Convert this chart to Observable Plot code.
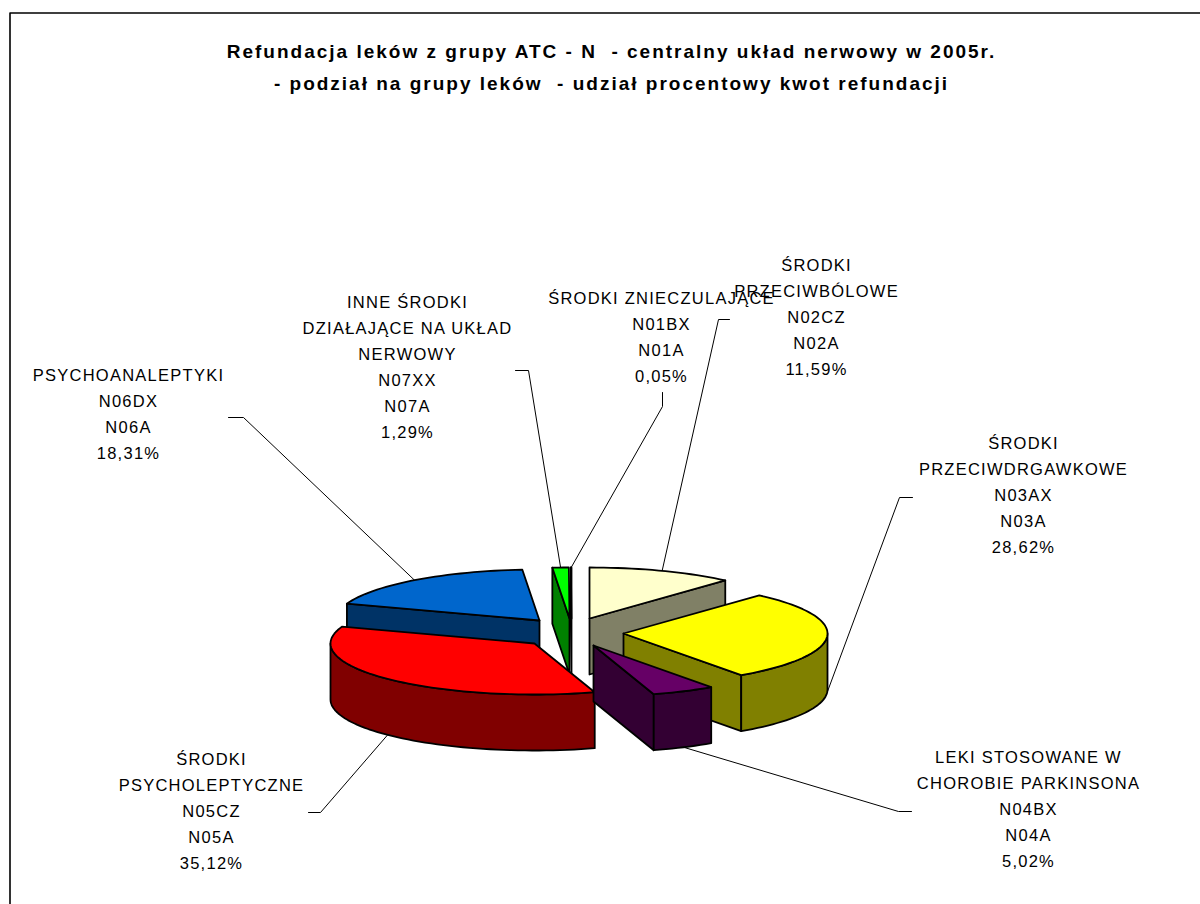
<!DOCTYPE html>
<html><head><meta charset="utf-8">
<script src="https://cdn.jsdelivr.net/npm/d3@7"></script>
<script src="https://cdn.jsdelivr.net/npm/@observablehq/plot@0.6"></script>
<style>html,body{margin:0;padding:0;background:#fff}svg{display:block}
.lab text{letter-spacing:1.25px}.ttl text{letter-spacing:2px}</style>
</head><body><div id="chart"></div>
<script>
// Data
const shares = [11.59,28.62,5.02,35.12,18.31,1.29,0.05];
const labelLines = [
  ["ŚRODKI","PRZECIWBÓLOWE","N02CZ","N02A","11,59%"],
  ["ŚRODKI","PRZECIWDRGAWKOWE","N03AX","N03A","28,62%"],
  ["LEKI STOSOWANE W","CHOROBIE PARKINSONA","N04BX","N04A","5,02%"],
  ["ŚRODKI","PSYCHOLEPTYCZNE","N05CZ","N05A","35,12%"],
  ["PSYCHOANALEPTYKI","N06DX","N06A","18,31%"],
  ["INNE ŚRODKI","DZIAŁAJĄCE NA UKŁAD","NERWOWY","N07XX","N07A","1,29%"],
  ["ŚRODKI ZNIECZULAJĄCE","N01BX","N01A","0,05%"]
];
const titleLines = ["Refundacja leków z grupy ATC - N  - centralny układ nerwowy w 2005r.","- podział na grupy leków  - udział procentowy kwot refundacji"];

// Styles and layout, separate from the data
const topColors  = ["#FFFFCC","#FFFF00","#660066","#FF0000","#0066CC","#00FF00","#000000"];
const sideColors = ["#808066","#808000","#330033","#800000","#003366","#008000","#000000"];
const hubX = [589,623,593,534,539,569,571];
const hubY = [618,633,645,643,620,618,618];
const labelX = [816,1023,1028,211,128,407,661];
const labelTop = [265,443,757,759,375,302,298];
const elbowA = [[729,319],[912,497],[911,811],[308,812],[228,417],[515,370],[662,392]];
const elbowB = [[718,319],[899,497],[898,811],[320,812],[243,417],[528,370],[662,406]];
const drawOrder = [4,5,6,0,1,3,2];
const RX = 204, RY = 51, DEPTH = 56, LINE = 26.1;

const rad = d => d*Math.PI/180;
let acc = 0;
const slices = shares.map((v,i)=>{const a0=acc; acc+=v; const a1=acc;
  return {i,a0:a0*3.6,a1:a1*3.6,mid:(a0+a1)*1.8,cx:hubX[i],cy:hubY[i]};});
const rim = (s,deg,dz=0)=>[s.cx+RX*Math.sin(rad(deg)), s.cy-RY*Math.cos(rad(deg))+dz];
const arc = (s,a0,a1,dz=0)=>{const n=Math.max(1,Math.ceil((a1-a0)/2));
  return d3.range(n+1).map(k=>rim(s,a0+(a1-a0)*k/n,dz));};

const polys=[]; let pid=0;
const add=(pts,fill)=>{const id=pid++; pts.forEach(p=>polys.push({id,x:p[0],y:p[1],fill}));};
for(const o of drawOrder){
  const s=slices[o], hub=[s.cx,s.cy], hubB=[s.cx,s.cy+DEPTH];
  const side=sideColors[o];
  if(Math.cos(rad(s.a0-90))<0){const p=rim(s,s.a0);add([hub,p,[p[0],p[1]+DEPTH],hubB],side);}
  if(Math.cos(rad(s.a1+90))<0){const p=rim(s,s.a1);add([hub,p,[p[0],p[1]+DEPTH],hubB],side);}
  const f0=Math.max(s.a0,90), f1=Math.min(s.a1,270);
  if(f1>f0){add([...arc(s,f0,f1),...arc(s,f0,f1,DEPTH).reverse()],side);}
  add([hub,...arc(s,s.a0,s.a1)],topColors[o]);
}
const leaders=[]; slices.forEach(s=>{
  const front=Math.cos(rad(s.mid))<0;
  const a=rim(s,s.mid,front?DEPTH:0);
  [elbowA[s.i],elbowB[s.i],a].forEach(p=>leaders.push({k:s.i,x:p[0],y:p[1]}));
});
const labels=labelLines.flatMap((ls,i)=>ls.map((t,j)=>({t,x:labelX[i],y:labelTop[i]+j*LINE})));
const titles=titleLines.map((t,j)=>({t,x:611,y:51+j*32}));
const frame=[{x:9.5,y:904},{x:9.5,y:12.5},{x:1200,y:12.5}];

const chart=Plot.plot({
  width:1200,height:904,margin:0,
  x:{domain:[0,1200],range:[0,1200],axis:null},
  y:{domain:[0,904],range:[0,904],axis:null},
  style:{background:"#fff",fontFamily:"'Liberation Sans',Arial,sans-serif"},
  marks:[
    Plot.line(frame,{x:"x",y:"y",stroke:"#000",strokeWidth:1.6,curve:"linear"}),
    Plot.line(leaders,{x:"x",y:"y",z:"k",stroke:"#000",strokeWidth:1,curve:"linear"}),
    Plot.line(polys,{x:"x",y:"y",z:"id",fill:"fill",stroke:"#000",strokeWidth:1.8,curve:"linear-closed",strokeLinejoin:"round"}),
    Plot.text(labels,{x:"x",y:"y",text:"t",fontSize:16.5,fill:"#000",textAnchor:"middle",lineAnchor:"middle",className:"lab"}),
    Plot.text(titles,{x:"x",y:"y",text:"t",fontSize:19,fontWeight:"bold",fill:"#000",textAnchor:"middle",lineAnchor:"middle",className:"ttl"})
  ]
});
document.getElementById("chart").append(chart);
</script></body></html>
